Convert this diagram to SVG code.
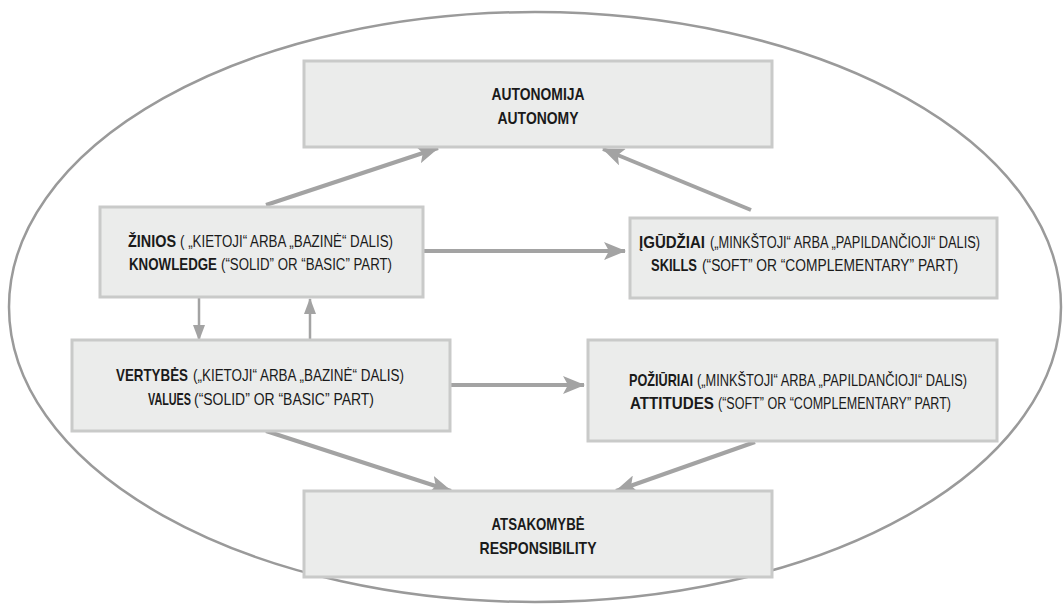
<svg xmlns="http://www.w3.org/2000/svg" width="1063" height="613" viewBox="0 0 1063 613">
<defs>
<style>
.box{fill:#ebeceb;stroke:#c9cac9;stroke-width:3}
.t{font-family:"Liberation Sans",Arial,sans-serif;font-size:12.5px;fill:#1a1a1a}
.m{text-anchor:middle}
.b{font-weight:bold}
.c{stroke:#a3a3a3;fill:none}
.thick{stroke-width:4}
.thin{stroke-width:2.5}
</style>
<marker id="ah" markerUnits="userSpaceOnUse" viewBox="0 0 22 18" refX="21" refY="9" markerWidth="22" markerHeight="18" orient="auto">
<path d="M0,0 L22,9 L0,18 L5,9 Z" fill="#a3a3a3"/>
</marker>
<marker id="ahs" markerUnits="userSpaceOnUse" viewBox="0 0 16 12" refX="15" refY="6" markerWidth="16" markerHeight="12" orient="auto">
<path d="M0,0 L16,6 L0,12 Z" fill="#a3a3a3"/>
</marker>
</defs>
<rect width="1063" height="613" fill="#ffffff"/>
<ellipse id="frame" cx="535" cy="307" rx="526" ry="295" fill="none" stroke="#9a9a9a" stroke-width="2.5"/>
<g id="connectors">
<path class="c thick" d="M266,205 L438,148" marker-end="url(#ah)"/>
<path class="c thick" d="M751,210 L603,149" marker-end="url(#ah)"/>
<path class="c thick" d="M424,251 L625,251" marker-end="url(#ah)"/>
<path class="c thin" d="M199,298 L199,340" marker-end="url(#ahs)"/>
<path class="c thin" d="M310,342 L310,299" marker-end="url(#ahs)"/>
<path class="c thick" d="M451,385 L584,385" marker-end="url(#ah)"/>
<path class="c thick" d="M266,431 L451,491" marker-end="url(#ah)"/>
<path class="c thick" d="M755,442 L616,491" marker-end="url(#ah)"/>
</g>
<g id="autonomija">
<rect class="box" x="304" y="61" width="468" height="86"/>
<text class="t b m" transform="translate(538,100) scale(1,1.32)" textLength="93" lengthAdjust="spacingAndGlyphs">AUTONOMIJA</text>
<text class="t b m" transform="translate(538,124) scale(1,1.32)" textLength="81" lengthAdjust="spacingAndGlyphs">AUTONOMY</text>
</g>
<g id="zinios">
<rect class="box" x="100" y="207" width="323" height="90"/>
<text class="t b" transform="translate(128,247) scale(1,1.32)" textLength="48" lengthAdjust="spacingAndGlyphs">ŽINIOS</text>
<text class="t" transform="translate(180,247) scale(1,1.32)" textLength="213" lengthAdjust="spacingAndGlyphs">( „KIETOJI“ ARBA „BAZINĖ“ DALIS)</text>
<text class="t b" transform="translate(129,270) scale(1,1.32)" textLength="88" lengthAdjust="spacingAndGlyphs">KNOWLEDGE</text>
<text class="t" transform="translate(221,270) scale(1,1.32)" textLength="171" lengthAdjust="spacingAndGlyphs">(“SOLID” OR “BASIC” PART)</text>
</g>
<g id="igudziai">
<rect class="box" x="630" y="218" width="367" height="80"/>
<text class="t b" transform="translate(639,248) scale(1,1.32)" textLength="66" lengthAdjust="spacingAndGlyphs">ĮGŪDŽIAI</text>
<text class="t" transform="translate(710,248) scale(1,1.32)" textLength="270" lengthAdjust="spacingAndGlyphs">(„MINKŠTOJI“ ARBA „PAPILDANČIOJI“ DALIS)</text>
<text class="t b" transform="translate(651,271) scale(1,1.32)" textLength="46" lengthAdjust="spacingAndGlyphs">SKILLS</text>
<text class="t" transform="translate(702,271) scale(1,1.32)" textLength="256" lengthAdjust="spacingAndGlyphs">(“SOFT” OR “COMPLEMENTARY” PART)</text>
</g>
<g id="vertybes">
<rect class="box" x="72" y="340" width="378" height="91"/>
<text class="t b" transform="translate(116,381) scale(1,1.32)" textLength="72" lengthAdjust="spacingAndGlyphs">VERTYBĖS</text>
<text class="t" transform="translate(193,381) scale(1,1.32)" textLength="211" lengthAdjust="spacingAndGlyphs">(„KIETOJI“ ARBA „BAZINĖ“ DALIS)</text>
<text class="t b" style="font-size:10.5px" transform="translate(148,405) scale(1,1.57)" textLength="43" lengthAdjust="spacingAndGlyphs">VALUES</text>
<text class="t" transform="translate(194,405) scale(1,1.32)" textLength="180" lengthAdjust="spacingAndGlyphs">(“SOLID” OR “BASIC” PART)</text>
</g>
<g id="poziuriai">
<rect class="box" x="588" y="340" width="409" height="101"/>
<text class="t b" transform="translate(629,386) scale(1,1.32)" textLength="64" lengthAdjust="spacingAndGlyphs">POŽIŪRIAI</text>
<text class="t" transform="translate(697,386) scale(1,1.32)" textLength="270" lengthAdjust="spacingAndGlyphs">(„MINKŠTOJI“ ARBA „PAPILDANČIOJI“  DALIS)</text>
<text class="t b" transform="translate(630,409) scale(1,1.32)" textLength="84" lengthAdjust="spacingAndGlyphs">ATTITUDES</text>
<text class="t" transform="translate(718,409) scale(1,1.32)" textLength="233" lengthAdjust="spacingAndGlyphs">(“SOFT” OR “COMPLEMENTARY” PART)</text>
</g>
<g id="atsakomybe">
<rect class="box" x="304" y="491" width="468" height="86"/>
<text class="t b m" transform="translate(538,530) scale(1,1.32)" textLength="93" lengthAdjust="spacingAndGlyphs">ATSAKOMYBĖ</text>
<text class="t b m" transform="translate(538,554) scale(1,1.32)" textLength="117" lengthAdjust="spacingAndGlyphs">RESPONSIBILITY</text>
</g>
</svg>
